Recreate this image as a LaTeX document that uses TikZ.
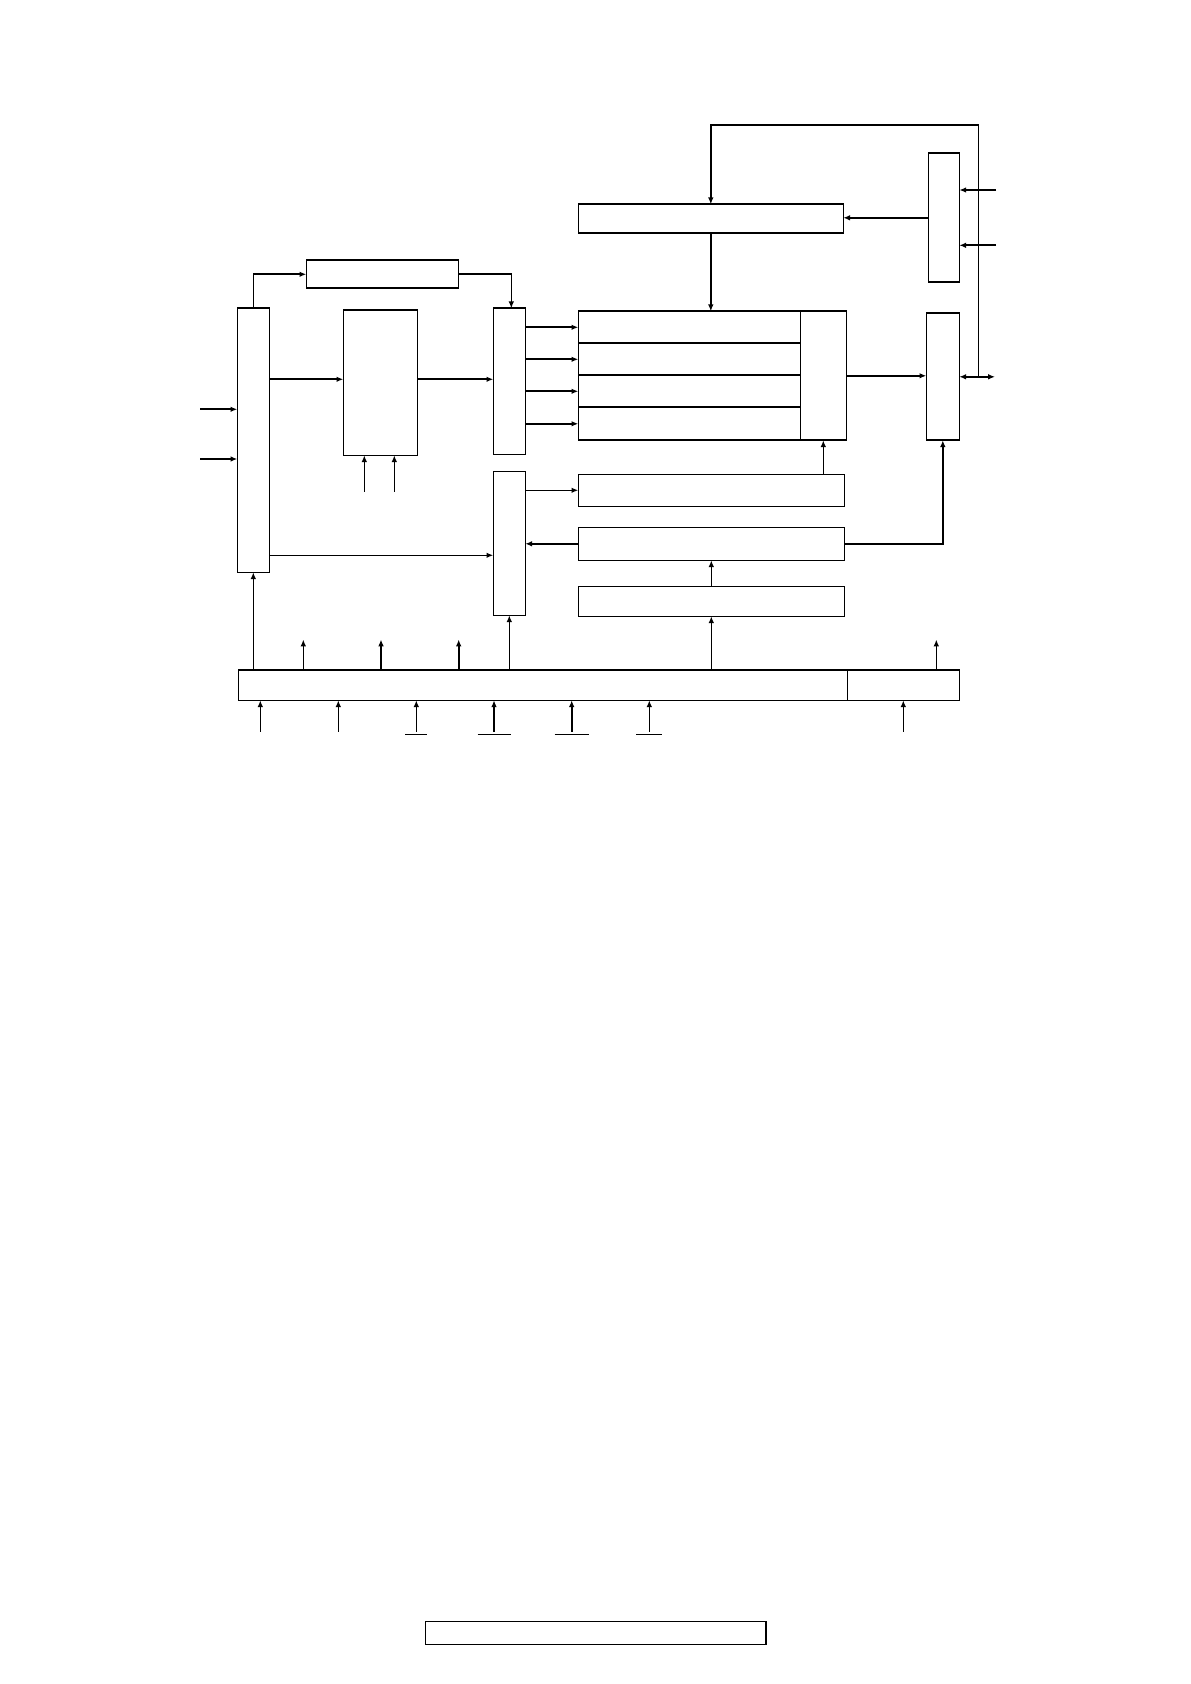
\documentclass[tikz,border=0pt]{standalone}
\usetikzlibrary{calc,fit,arrows.meta}
\tikzset{
  blk/.style={draw, inner sep=0pt, outer sep=0pt},
  arr/.style={-{Latex[length=3.4pt,width=2.8pt]}},
  arrs/.style={{Latex[length=3.4pt,width=2.8pt]}-{Latex[length=3.4pt,width=2.8pt]}},
}
\begin{document}
\begin{tikzpicture}[x=0.5pt,y=-0.5pt,line width=0.8pt]
\useasboundingbox (0,0) rectangle (1190,1684);
% left part
\node[blk, fit={(237.3,308.3) (269.3,572.3)}] (ctrl) {};
\node[blk, fit={(306.3,260.3) (458.3,288.3)}] (buf) {};
\node[blk, fit={(343.3,310.3) (417.3,455.3)}] (mem) {};
\node[blk, fit={(493.3,308.3) (525.3,454.3)}] (muxa) {};
\node[blk, fit={(493.3,471.3) (525.3,615.3)}] (muxb) {};
% register stack
\foreach \i/\t/\b in {1/311.3/343.3,2/343.3/375.3,3/375.3/407.3,4/407.3/440.3}
  \node[blk, fit={(578.3,\t) (800.3,\b)}] (row\i) {};
\node[blk, fit={(800.3,311.3) (846.3,440.3)}] (sel) {};
\node[blk, fit={(578.3,204.3) (843.3,233.3)}] (cfg) {};
\node[blk, fit={(578.3,474.3) (844.3,506.3)}] (outa) {};
\node[blk, fit={(578.3,527.3) (844.3,560.3)}] (fb) {};
\node[blk, fit={(578.3,586.3) (844.3,616.3)}] (gen) {};
% right part
\node[blk, fit={(928.3,153.3) (959.3,282.3)}] (ser) {};
\node[blk, fit={(926.3,313.3) (959.3,440.3)}] (port) {};
% bus and footer
\node[blk, fit={(238.3,670) (847.3,700.3)}] (bus) {};
\node[blk, fit={(847.3,670) (959.3,700.3)}] (busr) {};
\node[blk, fit={(425.3,1621.3) (765.7,1644.3)}] (title) {};

% inputs
\foreach \y [count=\i] in {409.3,459} {
  \coordinate (in\i) at (200,\y);
  \draw[arr] (in\i) -- (in\i -| ctrl.west);
}
\foreach \x [count=\i] in {364.3,394.3} {
  \coordinate (m\i) at (\x,491.7);
  \draw[arr] (m\i) -- (m\i |- mem.south);
}
\foreach \y [count=\i] in {190,245.3} {
  \coordinate (s\i) at (996,\y);
  \draw[arr] (s\i) -- (s\i -| ser.east);
}

% data path
\draw[arr] (ctrl.north) |- (buf.west);
\draw[arr] (buf.east) -| ([xshift=1pt]muxa.north);
\coordinate (cm) at ($(mem.west)+(0,-3.5)$);
\draw[arr] (cm -| ctrl.east) -- (cm);
\draw[arr] (cm -| mem.east) -- (cm -| muxa.west);
\foreach \i in {1,...,4}
  \draw[arr] (row\i.west -| muxa.east) -- (row\i.west);
\coordinate (cb) at ($(muxb.west)+(0,12)$);
\draw[arr] (cb -| ctrl.east) -- (cb);
\draw[arr] (outa.west -| muxb.east) -- (outa.west);
\draw[arr] (fb.west) -- (fb.west -| muxb.east);
\draw[arr] (sel.south |- outa.north) -- (sel.south);
\draw[arr] (fb.east) -| (port.south);
\draw[arr] (gen.north) -- (fb.south);
\draw[arr] (cfg.south) -- (cfg.south |- row1.north);
\draw[arr] (ser.west) -- (ser.west -| cfg.east);
\draw[arr] (sel.east) -- (sel.east -| port.west);

% port and loop back
\coordinate (io) at (995,376.8);
\draw[arrs] (port.east) -- (io);
\coordinate (j) at (978.3,376.8);
\coordinate (tp) at (978.3,125);
\draw[arr] (j) -- (tp) -| (cfg.north);

% bus connections
\draw[arr] (ctrl.south |- bus.north) -- (ctrl.south);
\draw[arr] (muxb.south |- bus.north) -- (muxb.south);
\draw[arr] (gen.south |- bus.north) -- (gen.south);
\foreach \x [count=\i] in {303.3,381,458.7,936.3} {
  \coordinate (o\i) at (\x,639.5);
  \draw[arr] (o\i |- bus.north) -- (o\i);
}
\foreach \x [count=\i] in {260.3,338.3,416.3,494,571.7,649.3,903.3} {
  \coordinate (b\i) at (\x,731.7);
  \draw[arr] (b\i) -- (b\i |- bus.south);
}
\foreach \i/\w in {3/11,4/16.5,5/17,6/13}
  \draw ($(b\i)+(-\w,2.6)$) -- ($(b\i)+(\w,2.6)$);
\end{tikzpicture}
\end{document}
